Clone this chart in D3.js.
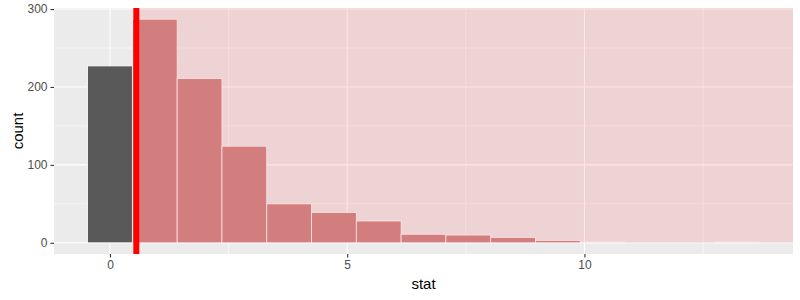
<!DOCTYPE html>
<html>
<head>
<meta charset="utf-8">
<script src="https://cdn.jsdelivr.net/npm/d3@7"></script>
<style>
  html, body { margin: 0; padding: 0; background: #ffffff; }
  svg { display: block; font-family: "Liberation Sans", Arial, sans-serif; }
</style>
</head>
<body>
<svg id="chart" width="800" height="300"></svg>
<script>
// ---- data ----
const binCenters = [0, 0.944, 1.888, 2.832, 3.776, 4.72, 5.664, 6.608, 7.552, 8.496, 9.44, 10.384, 11.328, 12.272, 13.216];
const binWidth = 0.944;
const counts = [227, 287, 211, 124, 50, 39, 28, 11, 10, 7, 3, 1, 0, 0, 1];
const obsStat = 0.555;
const xTicks = [0, 5, 10];
const xMinor = [2.5, 7.5, 12.5];
const yTicks = [0, 100, 200, 300];
const yMinor = [50, 150, 250];

// ---- layout ----
const W = 800, H = 300;
const margin = { left: 54, right: 7, top: 8, bottom: 46 };
const pw = W - margin.left - margin.right;
const ph = H - margin.top - margin.bottom;

const svg = d3.select("#chart");

const xLo = binCenters[0] - binWidth / 2;
const xHi = binCenters[binCenters.length - 1] + binWidth / 2;
const xPad = (xHi - xLo) * 0.05;
const x = d3.scaleLinear().domain([xLo - xPad, xHi + xPad]).range([margin.left, margin.left + pw]);

const yMax = d3.max(counts);
const y = d3.scaleLinear().domain([-0.05 * yMax, 1.05 * yMax]).range([margin.top + ph, margin.top]);

// panel background
svg.append("rect")
  .attr("x", margin.left).attr("y", margin.top)
  .attr("width", pw).attr("height", ph)
  .attr("fill", "#EBEBEB");

const grid = svg.append("g");
// minor grid
grid.selectAll(".ym").data(yMinor).join("line")
  .attr("x1", margin.left).attr("x2", margin.left + pw)
  .attr("y1", d => y(d)).attr("y2", d => y(d))
  .attr("stroke", "#ffffff").attr("stroke-width", 0.55);
grid.selectAll(".xm").data(xMinor).join("line")
  .attr("y1", margin.top).attr("y2", margin.top + ph)
  .attr("x1", d => x(d)).attr("x2", d => x(d))
  .attr("stroke", "#ffffff").attr("stroke-width", 0.55);
// major grid
grid.selectAll(".yM").data(yTicks).join("line")
  .attr("x1", margin.left).attr("x2", margin.left + pw)
  .attr("y1", d => y(d)).attr("y2", d => y(d))
  .attr("stroke", "#ffffff").attr("stroke-width", 1.1);
grid.selectAll(".xM").data(xTicks).join("line")
  .attr("y1", margin.top).attr("y2", margin.top + ph)
  .attr("x1", d => x(d)).attr("x2", d => x(d))
  .attr("stroke", "#ffffff").attr("stroke-width", 1.1);

// bars
const bars = binCenters.map((c, i) => ({ c, n: counts[i] }));
svg.append("g").selectAll("rect").data(bars).join("rect")
  .attr("x", d => x(d.c - binWidth / 2))
  .attr("width", d => x(d.c + binWidth / 2) - x(d.c - binWidth / 2))
  .attr("y", d => y(d.n))
  .attr("height", d => y(0) - y(d.n))
  .attr("fill", d => (d.c + binWidth / 2 > obsStat) ? "#CF8D8D" : "#595959")
  .attr("stroke", "#ffffff").attr("stroke-width", 0.8);

// shaded p-value region
svg.append("rect")
  .attr("x", x(obsStat)).attr("y", margin.top)
  .attr("width", margin.left + pw - x(obsStat))
  .attr("height", y(0) - margin.top)
  .attr("fill", "red").attr("fill-opacity", 0.1);

// observed stat line
svg.append("line")
  .attr("x1", x(obsStat)).attr("x2", x(obsStat))
  .attr("y1", margin.top).attr("y2", margin.top + ph)
  .attr("stroke", "#FF0000").attr("stroke-width", 6);

// axes
const xAxis = d3.axisBottom(x).tickValues(xTicks).tickSize(3.5).tickPadding(3);
const gx = svg.append("g").attr("transform", `translate(0,${margin.top + ph})`).call(xAxis);
const yAxis = d3.axisLeft(y).tickValues(yTicks).tickSize(3.5).tickPadding(3);
const gy = svg.append("g").attr("transform", `translate(${margin.left},0)`).call(yAxis);
[gx, gy].forEach(g => {
  g.select(".domain").remove();
  g.selectAll(".tick line").attr("stroke", "#333333").attr("stroke-width", 1.1);
  g.selectAll(".tick text").attr("fill", "#4D4D4D").style("font-size", "12px")
    .style("font-family", "Liberation Sans, Arial, sans-serif");
});

// axis titles
svg.append("text")
  .attr("x", margin.left + pw / 2).attr("y", 289)
  .attr("text-anchor", "middle")
  .style("font-size", "15px").attr("fill", "#000000")
  .text("stat");
svg.append("text")
  .attr("transform", `translate(22.5,${margin.top + ph / 2}) rotate(-90)`)
  .attr("text-anchor", "middle")
  .style("font-size", "15px").attr("fill", "#000000")
  .text("count");
</script>
</body>
</html>
